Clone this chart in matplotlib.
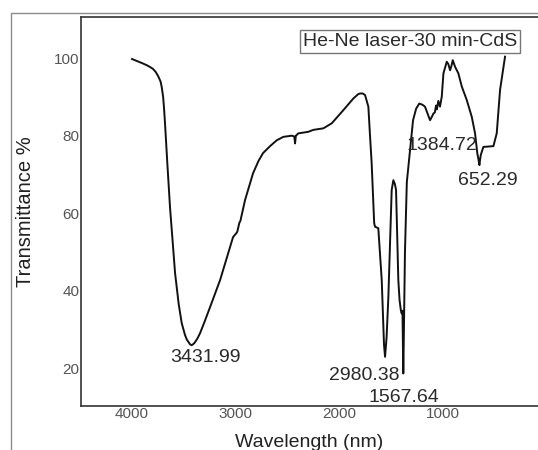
import matplotlib
matplotlib.use("Agg")
import matplotlib.pyplot as plt
from matplotlib.patches import Rectangle

# FTIR spectrum
wavenumber = [4000, 3900, 3850, 3800, 3770, 3745, 3725, 3714, 3700, 3690, 3682,
              3660, 3634, 3585, 3550, 3521, 3490, 3473, 3440, 3424, 3400, 3370,
              3344, 3300, 3248, 3151, 3026, 2995, 2985, 2965, 2955, 2910, 2833,
              2780, 2737, 2669, 2605, 2541, 2460, 2435, 2428, 2420, 2396, 2300,
              2252, 2155, 2074, 1962, 1866, 1820, 1801, 1775, 1753, 1721, 1705,
              1689, 1665, 1657, 1625, 1610, 1592, 1570, 1560, 1545, 1528, 1496,
              1480, 1465, 1454, 1432, 1420, 1416, 1408, 1400, 1392, 1384, 1378,
              1368, 1350, 1320, 1290, 1260, 1230, 1200, 1175, 1126, 1110, 1094,
              1080, 1068, 1060, 1046, 1030, 1013, 997, 965, 950, 933, 920, 907,
              885, 853, 820, 772, 724, 692, 670, 660, 650, 645, 637, 612, 515,
              483, 451, 403]
transmittance = [99.8, 98.7, 98.1, 97.3, 96.4, 95.2, 94.0, 92.6, 90.0, 86.5, 83.2,
                 73.0, 61.6, 44.5, 36.5, 31.6, 28.6, 27.4, 26.1, 25.9, 26.4, 27.6,
                 29.0, 32.0, 35.7, 42.7, 53.8, 54.8, 55.2, 57.5, 58.0, 63.4, 70.3,
                 73.5, 75.5, 77.3, 78.8, 79.7, 80.0, 79.8, 78.0, 80.0, 80.6, 81.0,
                 81.5, 81.9, 83.2, 86.6, 89.6, 90.7, 90.9, 90.9, 90.5, 87.5, 80.0,
                 72.8, 57.5, 56.5, 56.1, 50.0, 42.7, 26.0, 22.9, 28.0, 38.4, 66.0,
                 68.5, 67.5, 66.0, 42.7, 37.5, 36.7, 35.0, 34.1, 34.8, 18.6, 30.0,
                 50.0, 68.0, 76.0, 84.0, 87.0, 88.3, 88.0, 87.5, 84.0, 84.8, 85.7,
                 86.0, 87.8, 86.8, 89.0, 87.5, 90.1, 96.1, 99.1, 98.5, 96.9, 98.0,
                 99.5, 97.8, 96.1, 92.7, 89.2, 84.9, 80.6, 75.4, 74.0, 72.4, 73.5,
                 75.0, 77.1, 77.3, 80.6, 91.8, 100.4]

peak_labels = ["3431.99", "2980.38", "1567.64", "1384.72", "652.29"]
label_x = [3296, 1763, 1377, 1011, 567]
label_y = [22.8, 18.2, 12.5, 77.5, 68.5]

x_ticks = [4000, 3000, 2000, 1000]
y_ticks = [20, 40, 60, 80, 100]

plt.rcParams['font.family'] = ['Liberation Sans', 'DejaVu Sans']

fig = plt.figure(figsize=(5.38, 4.5), dpi=100)
ax = fig.add_axes([0.1506, 0.0978, 0.8494, 0.864])

# the grey crop frame round the whole picture
fig.patches.append(Rectangle((0.0204, -0.2), 1.2, 0.971 + 0.2,
                             transform=fig.transFigure, fill=False,
                             edgecolor="#8a8a8a", linewidth=1.0))

ax.plot(wavenumber, transmittance, color="#111111", linewidth=1.4,
        solid_joinstyle="round")

ax.set_xlim(4492, 85)
ax.set_ylim(10.2, 110.6)
ax.set_xticks(x_ticks)
ax.set_yticks(y_ticks)
ax.tick_params(length=0, pad=1, labelsize=11, colors="#555555")

for side in ["left", "bottom", "top"]:
    ax.spines[side].set_color("#333333")
    ax.spines[side].set_linewidth(1.2)
ax.spines["right"].set_visible(False)

ax.set_xlabel("Wavelength (nm)", fontsize=14, color="#222222", labelpad=9)
ax.set_ylabel("Transmittance %", fontsize=14.5, color="#222222", labelpad=14)

for txt, lx, ly in zip(peak_labels, label_x, label_y):
    ax.text(lx, ly, txt, fontsize=14, color="#2a2a2a", ha="center", va="center")

ax.text(1319, 104.4, "He-Ne laser-30 min-CdS", fontsize=14, color="#2a2a2a",
        ha="center", va="center",
        bbox=dict(boxstyle="square,pad=0.15", facecolor="white",
                  edgecolor="#777777", linewidth=1.0))

fig.savefig("out.png", dpi=100)
